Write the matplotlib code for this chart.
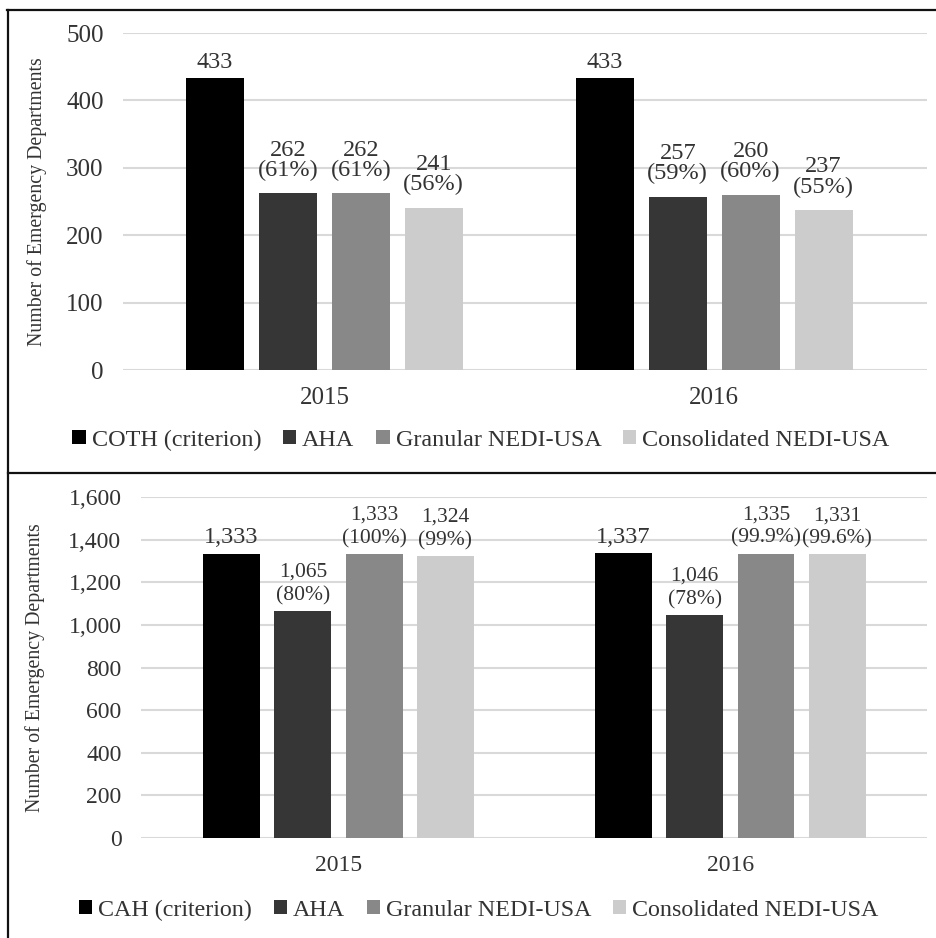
import numpy as np
import matplotlib
matplotlib.use('Agg')
import matplotlib.pyplot as plt
from matplotlib.lines import Line2D

plt.rcParams['font.family'] = ['Liberation Serif', 'DejaVu Serif']

# ---- Data ---- #
years = ['2015', '2016']
colors = ['#000000', '#363636', '#888888', '#cccccc']

top_series = ['COTH (criterion)', 'AHA', 'Granular NEDI-USA', 'Consolidated NEDI-USA']
coth = [433, 433]
aha_top = [262, 257]
gran_top = [262, 260]
cons_top = [241, 237]
aha_top_pct = ['61%', '59%']
gran_top_pct = ['61%', '60%']
cons_top_pct = ['56%', '55%']

bot_series = ['CAH (criterion)', 'AHA', 'Granular NEDI-USA', 'Consolidated NEDI-USA']
cah = [1333, 1337]
aha_bot = [1065, 1046]
gran_bot = [1333, 1335]
cons_bot = [1324, 1331]
aha_bot_pct = ['80%', '78%']
gran_bot_pct = ['100%', '99.9%']
cons_bot_pct = ['99%', '99.6%']

TXT = '#333333'


def draw_panel(ax, series, values, pcts, width, step, ymax, ystep, fmt,
               tick_fs, lab_fs, crit_fs, lsp, off2):
    x = np.arange(len(years))
    for i, (name, vals) in enumerate(zip(series, values)):
        pos = x + (i - 1.5) * step
        bars = ax.bar(pos, vals, width, color=colors[i], label=name, zorder=3)
        for j, b in enumerate(bars):
            if i == 0:
                lab = fmt(vals[j])
                fs = crit_fs
                off = 4
            else:
                lab = f'{fmt(vals[j])}\n({pcts[i - 1][j]})'
                fs = lab_fs
                off = off2
            ax.annotate(lab, (b.get_x() + b.get_width() / 2, b.get_height()),
                        xytext=(0, off), textcoords='offset points',
                        ha='center', va='bottom', fontsize=fs, color=TXT,
                        linespacing=lsp)
    ax.set_ylim(0, ymax)
    ax.set_yticks(np.arange(0, ymax + 1, ystep))
    ax.set_yticklabels([fmt(v) for v in np.arange(0, ymax + 1, ystep)])
    ax.yaxis.grid(True, color='#d9d9d9', linewidth=1.5, zorder=0)
    ax.set_axisbelow(True)
    for s in ax.spines.values():
        s.set_visible(False)
    ax.tick_params(length=0, labelsize=tick_fs, labelcolor=TXT)
    ax.tick_params(axis='y', pad=14)
    ax.tick_params(axis='x', pad=12)
    ax.set_xticks(x)
    ax.set_xticklabels(years)
    ax.set_ylabel('Number of Emergency Departments', fontsize=14.3, color=TXT)


def add_legend(ax, xc, yc, fs):
    ax.legend(loc='center', bbox_to_anchor=(xc / 936, 1 - yc / 938),
              bbox_transform=fig.transFigure, ncol=4, frameon=False,
              fontsize=fs, handlelength=0.55, handleheight=0.55,
              handletextpad=0.25, columnspacing=0.9, labelcolor=TXT,
              borderpad=0)


fig = plt.figure(figsize=(9.36, 9.38), dpi=100)

ax1 = fig.add_axes([0.1314, 0.6055, 0.8586, 0.3593])
draw_panel(ax1, top_series, [coth, aha_top, gran_top, cons_top],
           [aha_top_pct, gran_top_pct, cons_top_pct],
           0.149, 0.187, 500, 100, lambda v: f'{int(v)}', 18, 17.5, 17.5, 0.95, 9)
ax1.set_xlim(-0.517, 1.545)
ax1.yaxis.set_label_coords(-0.095, 0.5)
add_legend(ax1, 481, 440, 17.4)

ax2 = fig.add_axes([0.1506, 0.1066, 0.8394, 0.3635])
draw_panel(ax2, bot_series, [cah, aha_bot, gran_bot, cons_bot],
           [aha_bot_pct, gran_bot_pct, cons_bot_pct],
           0.145, 0.182, 1600, 200, lambda v: f'{int(v):,}', 17, 15.5, 17.5, 1.3, 4)
ax2.set_xlim(-0.504, 1.501)
ax2.yaxis.set_label_coords(-0.122, 0.5)
add_legend(ax2, 479, 910, 17.3)

# panel borders
ytop = 1 - 10 / 938
xleft = 8 / 936
ydiv = 1 - 473 / 938
for xs, ys in [([7 / 936, 1], [ytop, ytop]),
               ([xleft, xleft], [0, ytop]),
               ([xleft, 1], [ydiv, ydiv])]:
    fig.add_artist(Line2D(xs, ys, transform=fig.transFigure,
                          color='#111111', linewidth=1.6))

fig.savefig('out.png', dpi=100)
